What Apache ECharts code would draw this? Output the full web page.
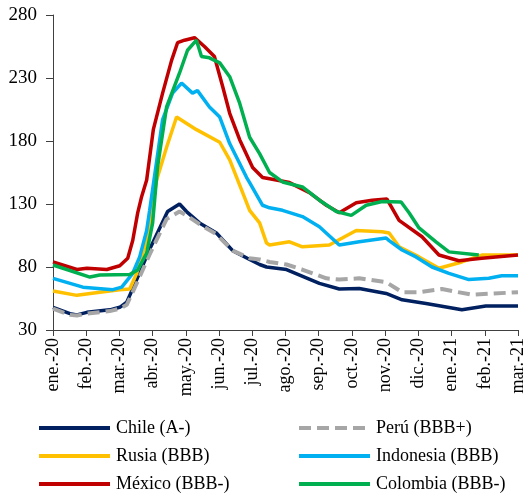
<!DOCTYPE html>
<html>
<head>
<meta charset="utf-8">
<script src="https://cdn.jsdelivr.net/npm/echarts@6/dist/echarts.min.js"></script>
<style>html,body{margin:0;padding:0;background:#fff}#c{width:527px;height:497px}</style>
</head>
<body>
<div id="c"></div>
<script>
// x = months since 1 Jan 2020 (0 = ene.-20, 14 = mar.-21)
var monthLabels = ['ene.-20','feb.-20','mar.-20','abr.-20','may.-20','jun.-20','jul.-20','ago.-20','sep.-20','oct.-20','nov.-20','dic.-20','ene.-21','feb.-21','mar.-21'];
var yTicks = [30, 80, 130, 180, 230, 280];

var chile = [[0,48],[0.51,43],[0.72,42],[1.02,44],[1.71,46],[2.01,48],[2.22,52],[2.52,70],[2.91,94],[3.45,124],[3.81,130],[4.02,124],[4.41,115],[4.92,107],[5.41,93],[5.92,86],[6.22,82],[6.43,80],[7.03,78],[8.02,67],[8.62,62.5],[9.22,63],[10.03,59],[10.51,54],[11.23,51],[12.01,47.5],[12.31,46],[13.03,49],[14,49]];
var peru = [[0,47],[0.51,42],[0.72,41.5],[1.02,43],[1.71,45],[2.01,47],[2.22,50],[2.52,67],[2.91,90],[3.42,118],[3.81,124],[4.02,121],[4.41,114],[4.92,106],[5.41,93],[5.92,87],[6.22,86],[6.52,84],[7.03,82],[7.5,78],[8.23,71],[8.62,70],[9.22,71],[10.03,68],[10.51,60],[11.0,60],[11.71,62.5],[12.61,58],[14,60]];
var rusia = [[0,61],[0.72,57.5],[1.41,60],[2.01,62],[2.31,62.5],[2.52,75],[2.82,101],[3.12,149],[3.42,175],[3.72,199],[4.32,189],[5.02,179],[5.32,165],[5.71,139],[5.92,125],[6.22,115],[6.43,99],[6.52,97.5],[7.12,100],[7.51,96],[8.32,97.5],[8.71,103],[9.13,109],[9.91,108],[10.12,107],[10.42,96],[10.72,92],[11.02,88],[11.62,79],[12.31,84],[12.91,89.5],[14,89.5]];
var indonesia = [[0,71],[0.9,64],[1.8,62],[2.07,64],[2.4,75],[2.61,88],[2.82,109],[2.91,125],[3.30,197],[3.60,218],[3.87,226],[4.20,218],[4.35,220],[4.71,207],[5.02,199],[5.32,178],[5.83,151],[5.92,147],[6.31,129],[6.52,127],[6.91,125],[7.51,120],[8.02,112],[8.62,97.5],[9.22,100],[10.03,103],[10.12,101],[10.51,93.5],[10.93,88],[11.41,80],[11.92,75],[12.52,70],[13.12,71],[13.51,73],[14,73]];
var mexico = [[0,84],[0.72,78],[1.02,79],[1.62,78],[2.01,81],[2.25,87],[2.40,101],[2.55,123],[2.67,136],[2.82,149],[3.02,189],[3.30,218],[3.57,244],[3.75,258],[3.96,260],[4.26,262],[4.56,255],[4.86,247],[5.11,223],[5.32,202],[5.62,181],[6.01,159],[6.31,151],[6.52,150],[7.12,147],[7.72,139],[8.23,129],[8.62,123],[9.13,131],[9.61,133],[10.05,134],[10.42,117],[11.11,104],[11.62,89.5],[12.22,85],[12.91,87],[14,89.5]];
var colombia = [[0,81.6],[1.11,72],[1.41,73.6],[2.31,74],[2.55,77.6],[2.82,91],[3.0,115],[3.06,133],[3.15,160],[3.42,207],[3.81,234],[4.05,252],[4.32,260],[4.47,247],[4.71,246],[5.02,242],[5.32,231],[5.62,210],[5.92,183],[6.22,170],[6.52,155],[6.91,147.5],[7.51,143.5],[8.02,133],[8.53,124],[8.98,121],[9.43,129],[9.91,132],[10.48,131.6],[10.72,123],[11.02,111],[11.53,100],[11.92,92],[12.82,89.5]];

var names = ['Chile (A-)','Perú (BBB+)','Rusia (BBB)','Indonesia (BBB)','México (BBB-)','Colombia (BBB-)'];
var datasets = [chile, peru, rusia, indonesia, mexico, colombia];
var colors = ['#002060','#A6A6A6','#FFC000','#00B0F0','#C00000','#00B050'];

var font = 'Liberation Serif';
var series = datasets.map(function (d, i) {
  return {
    name: names[i], type: 'line', data: d, symbol: 'none', z: 2 + i,
    lineStyle: { color: colors[i], width: i === 1 ? 4 : 3.5, type: i === 1 ? [12, 6] : 'solid' },
    itemStyle: { color: colors[i] }
  };
});

var legends = names.map(function (n, i) {
  var col = i % 2, row = Math.floor(i / 2);
  return {
    data: [n], left: col === 0 ? 37 : 297, top: 419 + row * 28,
    itemWidth: 71, itemHeight: 14, itemGap: 0, padding: 0,
    itemStyle: { opacity: 0 },
    lineStyle: { width: 4 },
    textStyle: { fontFamily: font, fontSize: 18, color: '#000', padding: [0, 0, 0, 1] }
  };
});

var chart = echarts.init(document.getElementById('c'), null, { renderer: 'canvas' });
chart.setOption({
  animation: false,
  backgroundColor: '#fff',
  grid: { left: 53, right: 8, top: 15, bottom: 167, containLabel: false },
  xAxis: {
    type: 'value', min: 0, max: 14, interval: 1,
    axisLine: { lineStyle: { color: '#404040', width: 1 } },
    axisTick: { show: true, length: 6, lineStyle: { color: '#404040' } },
    splitLine: { show: false },
    axisLabel: { rotate: 90, margin: 8, fontFamily: font, fontSize: 18, color: '#000',
      showMinLabel: true, showMaxLabel: true,
      formatter: function (v) { return monthLabels[Math.round(v)]; } }
  },
  yAxis: {
    type: 'value', min: yTicks[0], max: yTicks[yTicks.length - 1], interval: 50,
    axisLine: { show: true, lineStyle: { color: '#404040', width: 1 } },
    axisTick: { show: true, length: 7, lineStyle: { color: '#404040' } },
    splitLine: { show: false },
    axisLabel: { margin: 16, fontFamily: font, fontSize: 19, color: '#000' }
  },
  legend: legends,
  series: series
});
</script>
</body>
</html>
